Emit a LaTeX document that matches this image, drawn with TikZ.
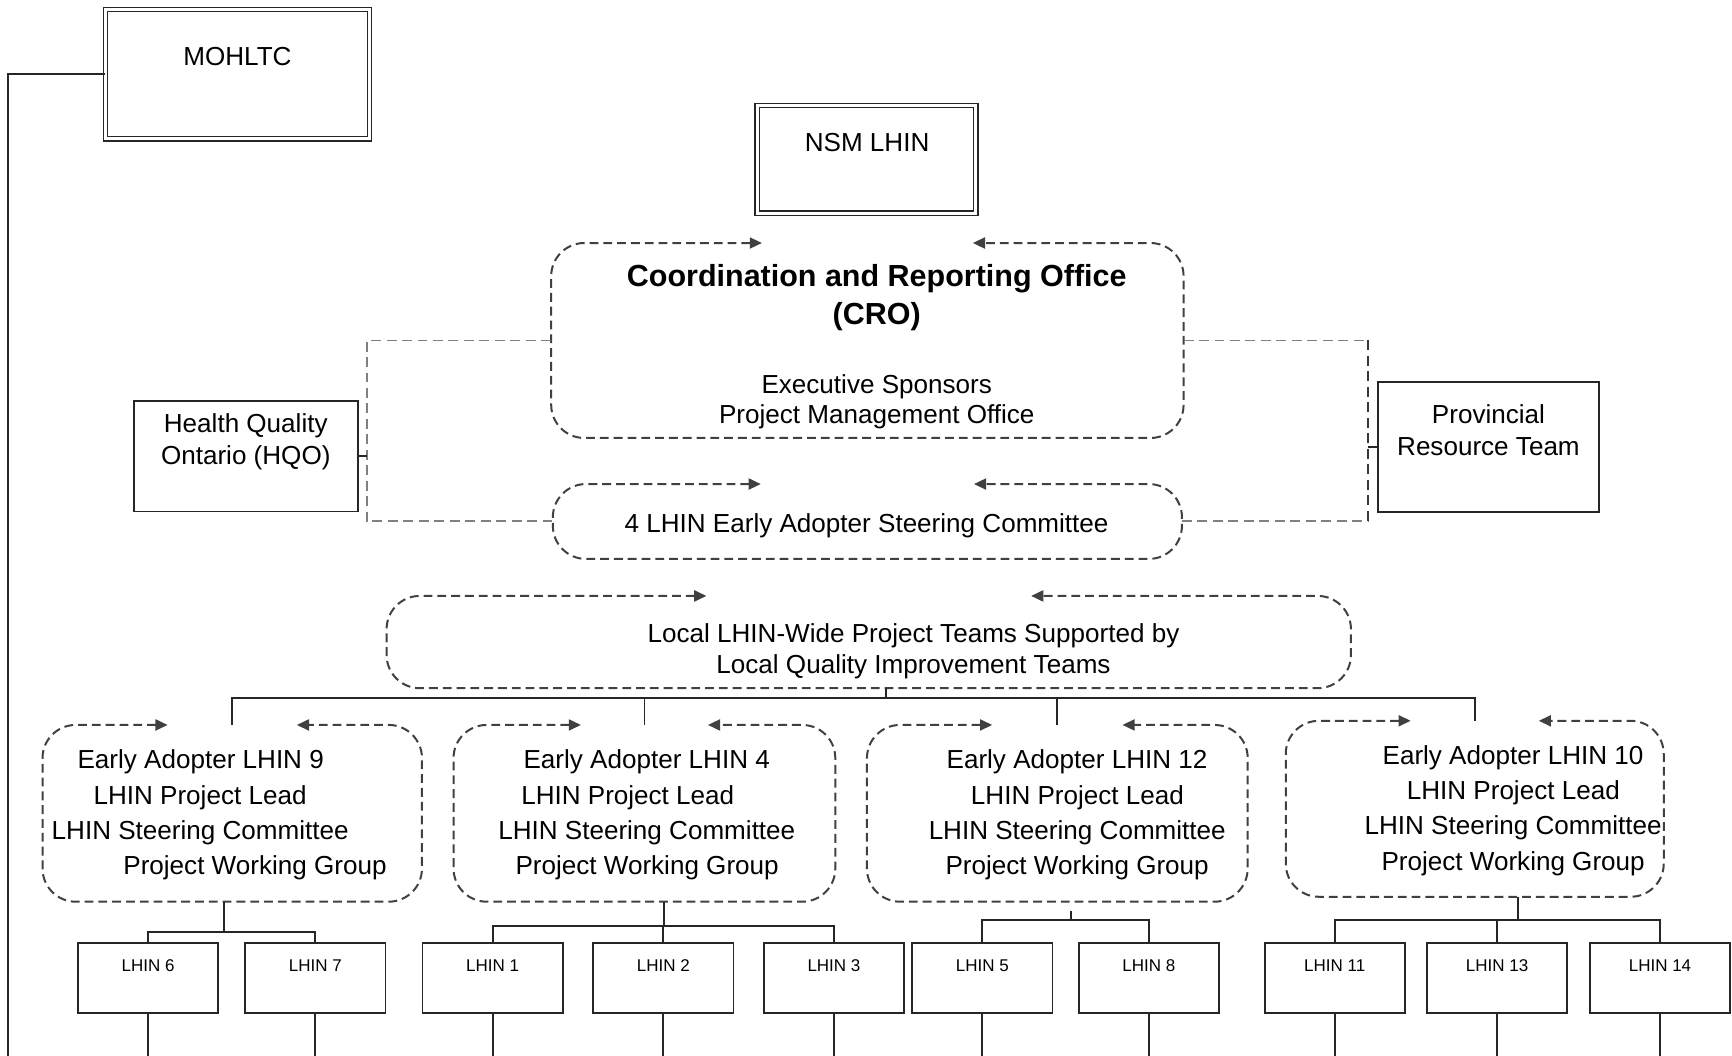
\documentclass[tikz,border=0pt]{standalone}
\usepackage{fontspec}
\setmainfont{Liberation Sans}
\usetikzlibrary{arrows.meta}
\newcommand\arrframe[3][30pt]{%
  \draw[dframe, rounded corners=#1] ([xshift=-#3]#2.north) -- (#2.north west) -- (#2.south west) -- (#2.south east) -- (#2.north east) -- ([xshift=#3]#2.north);}
\begin{document}
\begin{tikzpicture}[x=1pt,y=-1pt,
  every node/.style={inner sep=0pt, outer sep=0pt},
  txt/.style={font=\fontsize{23.6pt}{28pt}\selectfont, anchor=base},
  txtl/.style={txt, anchor=base west},
  btxt/.style={font=\fontsize{27.6pt}{33pt}\selectfont\bfseries, anchor=base},
  stxt/.style={font=\fontsize{15.4pt}{18pt}\selectfont, anchor=base},
  dblbox/.style={draw=black!85, double=white, double distance=2.8pt, line width=1.2pt},
  plainbox/.style={draw=black!85, line width=1.6pt},
  hidden/.style={draw=none},
  sbox/.style={plainbox, minimum width=127pt, minimum height=63pt},
  dframe/.style={draw=black!75, line width=1.8pt, dash pattern=on 8pt off 4.5pt,
    {Triangle[length=11pt,width=10pt]}-{Triangle[length=11pt,width=10pt]}},
  gconn/.style={draw=black!50, line width=1.8pt, dash pattern=on 9pt off 5pt},
  conn/.style={draw=black!85, line width=1.6pt}]
\useasboundingbox (0,0) rectangle (1568,956);

% top boxes
\node[dblbox, minimum width=239pt, minimum height=117pt] (mohltc) at (215,67) {};
\node[txt] (mohltct) at (215,59.4) {MOHLTC};
\node[dblbox, minimum width=198pt, minimum height=97.5pt] (nsm) at (784.5,144.25) {};
\node[txt] (nsmt) at (785,137.6) {NSM LHIN};

% CRO
\node[hidden, minimum width=572.5pt, minimum height=176.5pt] (cro) at (785.25,308.25) {};
\arrframe{cro}{95.5pt}
\node[btxt] (crot1) at (793.7,259.5) {Coordination and Reporting Office};
\node[btxt] (crot2) at (793.7,293.4) {(CRO)};
\node[txt] (crot3) at (793.7,356.4) {Executive Sponsors};
\node[txt] (crot4) at (793.7,383.4) {Project Management Office};

% steering committee
\node[hidden, minimum width=569.5pt, minimum height=67.8pt] (sc) at (785.25,472.1) {};
\arrframe{sc}{96.5pt}
\node[txt] (sct) at (784.5,482) {4 LHIN Early Adopter Steering Committee};

% side boxes
\node[plainbox, minimum width=203pt, minimum height=100pt] (hqo) at (222.5,413) {};
\node[txt] (hqot1) at (222.5,391.4) {Health Quality};
\node[txt] (hqot2) at (222.5,420.4) {Ontario (HQO)};
\node[plainbox, minimum width=200.5pt, minimum height=117.5pt] (prt) at (1347.5,404.5) {};
\node[txt] (prtt1) at (1347.5,383.4) {Provincial};
\node[txt] (prtt2) at (1347.5,412.4) {Resource Team};

% side connectors
\coordinate (lbus) at (332,413);
\coordinate (rbus) at (1238.8,404.5);
\draw[gconn] (cro.west) -| (lbus) |- (sc.west);
\draw[conn] (hqo.east) -- (lbus);
\draw[gconn] (cro.east) -- (cro.east -| rbus);
\draw[gconn] (sc.east) -- (sc.east -| rbus);
\draw[gconn, draw=black!78] (cro.east -| rbus) -- (sc.east -| rbus);
\draw[conn] (prt.west) -- (rbus);

% local teams
\node[hidden, minimum width=873pt, minimum height=83.5pt] (local) at (786.5,581.25) {};
\arrframe{local}{147pt}
\node[txt] (localt1) at (827,581.5) {Local LHIN-Wide Project Teams Supported by};
\node[txt] (localt2) at (827,609.5) {Local Quality Improvement Teams};

% early adopter boxes
\node[hidden, minimum width=343.5pt, minimum height=160pt] (ea9) at (210.25,736.3) {};
\node[hidden, minimum width=345.6pt, minimum height=160pt] (ea4) at (583.4,736.3) {};
\node[hidden, minimum width=344.7pt, minimum height=160pt] (ea12) at (957.2,736.3) {};
\node[hidden, minimum width=342.2pt, minimum height=159.3pt] (ea10) at (1335.1,732.2) {};
\arrframe{ea9}{58.5pt}
\arrframe{ea4}{57.5pt}
\arrframe{ea12}{59pt}
\arrframe{ea10}{58pt}

\node[txtl] (ea9a) at (70.2,695.8) {Early Adopter LHIN 9};
\node[txtl] (ea9b) at (84.7,728.1) {LHIN Project Lead};
\node[txtl] (ea9c) at (46.8,759.8) {LHIN Steering Committee};
\node[txtl] (ea9d) at (111.7,791.5) {Project Working Group};

\node[txtl] (ea4a) at (474,695.8) {Early Adopter LHIN 4};
\node[txtl] (ea4b) at (471.9,728.1) {LHIN Project Lead};
\node[txtl] (ea4c) at (451.1,759.8) {LHIN Steering Committee};
\node[txtl] (ea4d) at (466.7,791.5) {Project Working Group};

\node[txtl] (ea12a) at (857,695.8) {Early Adopter LHIN 12};
\node[txtl] (ea12b) at (879,728.1) {LHIN Project Lead};
\node[txtl] (ea12c) at (840.8,759.8) {LHIN Steering Committee};
\node[txtl] (ea12d) at (856,791.5) {Project Working Group};

\node[txtl] (ea10a) at (1251.7,691.9) {Early Adopter LHIN 10};
\node[txtl] (ea10b) at (1273.6,723.6) {LHIN Project Lead};
\node[txtl] (ea10c) at (1235.4,755.3) {LHIN Steering Committee};
\node[txtl] (ea10d) at (1250.7,787.9) {Project Working Group};

% bus to early adopters
\coordinate (bus) at (802.4,631.6);
\draw[conn] (local.south -| bus) -- (bus);
\draw[conn] (ea9.north) |- (bus) -| (ea10.north);
\draw[conn] (ea4.north) -- (ea4.north |- bus);
\draw[conn] (ea12.north) -- (ea12.north |- bus);

% LHIN boxes
\foreach \n/\x in {l6/134, l7/285.5, l1/446, l2/600.5, l3/755, l5/889.3, l8/1040, l11/1208.4, l13/1355.4, l14/1502.8}{
  \node[sbox] (\n) at (\x,885.5) {};
}
\node[stxt] (l6t) at (134,879.5) {LHIN 6};
\node[stxt] (l7t) at (285.5,879.5) {LHIN 7};
\node[stxt] (l1t) at (446,879.5) {LHIN 1};
\node[stxt] (l2t) at (600.5,879.5) {LHIN 2};
\node[stxt] (l3t) at (755,879.5) {LHIN 3};
\node[stxt] (l5t) at (889.3,879.5) {LHIN 5};
\node[stxt] (l8t) at (1040,879.5) {LHIN 8};
\node[stxt] (l11t) at (1208.4,879.5) {LHIN 11};
\node[stxt] (l13t) at (1355.4,879.5) {LHIN 13};
\node[stxt] (l14t) at (1502.8,879.5) {LHIN 14};

% group connectors
\coordinate (g9) at (203,844);
\draw[conn] (ea9.south -| g9) -- (g9);
\draw[conn] (l6.north) |- (g9) -| (l7.north);

\coordinate (g4) at (601,838.5);
\draw[conn] (ea4.south -| g4) -- (g4);
\draw[conn] (l1.north) |- (g4) -| (l3.north);
\draw[conn] (l2.north) -- (l2.north |- g4);

\coordinate (g12top) at (969.6,824.5);
\coordinate (g12) at (969.6,833);
\draw[conn] (g12top) -- (g12);
\draw[conn] (l5.north) |- (g12) -| (l8.north);

\coordinate (g10) at (1374,833);
\draw[conn] (ea10.south -| g10) -- (g10);
\draw[conn] (l11.north) |- (g10) -| (l14.north);
\draw[conn] (l13.north) -- (l13.north |- g10);

% drops to bottom
\coordinate (bot) at (0,956);
\coordinate (mbot) at (7,956);
\draw[conn] (mohltc.west) -| (mbot);
\foreach \n in {l6,l7,l1,l2,l3,l5,l8,l11,l13,l14}{
  \draw[conn] (\n.south) -- (\n.south |- bot);
}
\end{tikzpicture}
\end{document}
